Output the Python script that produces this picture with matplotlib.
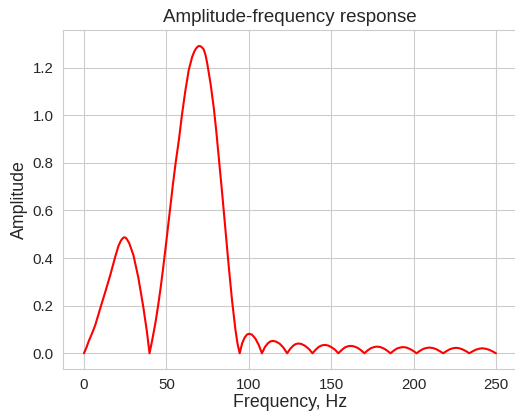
import matplotlib
matplotlib.use('Agg')
import matplotlib.pyplot as plt
import seaborn as sns

# Points (Hz, amplitude)
freq_main = [0, 1.4, 2.8, 5, 6.9, 9.9, 13, 16, 19, 21, 22.5, 23.4, 24.3, 25.2, 26, 27.5, 30, 33,
             36, 38.2, 39.8,
             41.5, 43.5, 45, 46.5, 48, 49.5, 51, 52.5, 54, 55.6, 57.6, 59.6, 61.6, 63.6, 65.7,
             66.8, 67.7, 68.7, 69.7, 70.6, 71.5, 72.7, 73.8, 74.8, 76.8, 78.8, 80.2, 81.8, 83.9,
             85.9, 87.9, 89.9, 91.9, 93.2, 94.5]
amp_main = [0, 0.022, 0.049, 0.085, 0.119, 0.189, 0.259, 0.329, 0.406, 0.452, 0.474, 0.482, 0.487,
            0.486, 0.480, 0.462, 0.413, 0.318, 0.195, 0.091, 0.0,
            0.058, 0.133, 0.200, 0.273, 0.355, 0.441, 0.532, 0.623, 0.710, 0.798, 0.896, 1.008,
            1.106, 1.190, 1.246, 1.265, 1.277, 1.286, 1.291, 1.290, 1.286, 1.276, 1.252, 1.218,
            1.134, 1.030, 0.940, 0.825, 0.670, 0.515, 0.362, 0.220, 0.100, 0.040, 0.0]

freq_tail = [96, 97.5, 99, 100.4, 102, 104, 106, 108,
             109.8, 111.6, 113.2, 114.7, 116.6, 118.8, 121, 123.3,
             125.2, 127, 128.6, 130.1, 132, 134.2, 136.5, 138.7,
             140.6, 142.5, 144.3, 146, 148, 150.1, 152.3, 154.4,
             156.3, 158.2, 160, 161.8, 163.8, 166, 168.1, 170.2,
             172.1, 174, 176, 177.9, 179.9, 182, 184, 186,
             188, 189.9, 191.8, 193.6, 195.7, 197.8, 199.8, 201.8,
             203.8, 205.8, 207.7, 209.6, 211.7, 213.8, 215.9, 218,
             220, 222, 223.9, 225.8, 227.8, 229.8, 231.8, 233.8,
             235.8, 237.8, 239.7, 241.6, 243.7, 245.8, 247.9, 250]
amp_tail = [0.042, 0.066, 0.079, 0.082, 0.078, 0.062, 0.036, 0,
            0.026, 0.042, 0.050, 0.052, 0.049, 0.040, 0.024, 0,
            0.019, 0.032, 0.039, 0.041, 0.039, 0.031, 0.018, 0,
            0.015, 0.027, 0.033, 0.035, 0.033, 0.026, 0.015, 0,
            0.013, 0.024, 0.029, 0.031, 0.029, 0.023, 0.013, 0,
            0.012, 0.021, 0.026, 0.028, 0.026, 0.020, 0.011, 0,
            0.011, 0.020, 0.024, 0.026, 0.024, 0.018, 0.010, 0,
            0.010, 0.018, 0.022, 0.024, 0.022, 0.017, 0.009, 0,
            0.009, 0.017, 0.021, 0.023, 0.021, 0.016, 0.009, 0,
            0.008, 0.015, 0.019, 0.021, 0.019, 0.015, 0.008, 0]

freq = freq_main + freq_tail
amp = amp_main + amp_tail

sns.set_style('whitegrid')
plt.rcParams['font.family'] = ['Liberation Sans', 'DejaVu Sans']

fig = plt.figure(figsize=(5.15, 4.12), dpi=100)
ax = fig.add_axes([0.123, 0.105, 0.880, 0.821])
ax.plot(freq, amp, color='red', linewidth=1.5)

ax.set_xlim(-12.5, 262.5)
ax.set_ylim(-0.065, 1.356)
ax.set_xticks([0, 50, 100, 150, 200, 250])
ax.set_yticks([0.0, 0.2, 0.4, 0.6, 0.8, 1.0, 1.2])
ax.tick_params(labelsize=10.8, colors='.15')
ax.set_title('Amplitude-frequency response', fontsize=13.5, color='.15')
ax.set_xlabel('Frequency, Hz', fontsize=12.8, color='.15', labelpad=1)
ax.set_ylabel('Amplitude', fontsize=12.8, color='.15', labelpad=3)

fig.savefig('out.png', dpi=100)
